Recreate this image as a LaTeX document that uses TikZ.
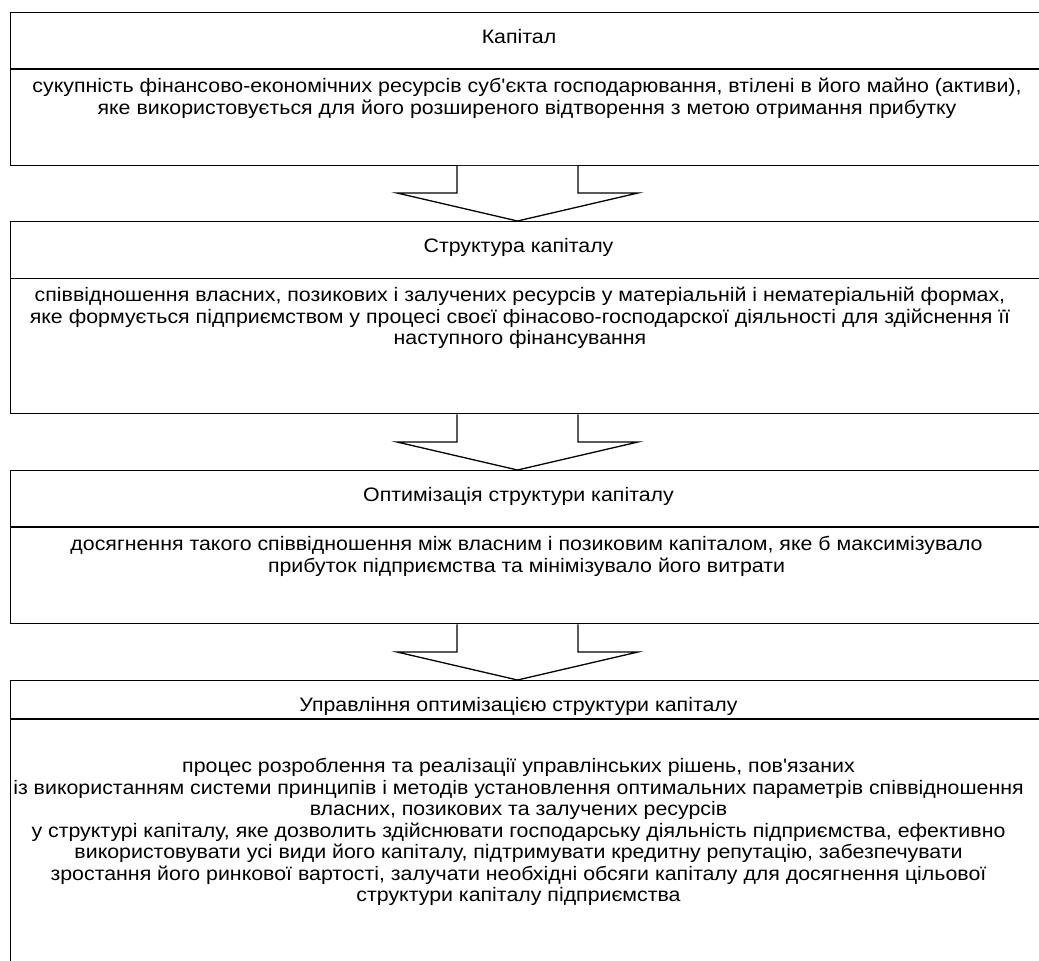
\documentclass[tikz,border=0pt]{standalone}
\usepackage{fontspec}
\setmainfont{Liberation Sans}[Ligatures=TeXOff, FakeStretch=1.095]
\usetikzlibrary{calc}
\newcommand\firstline{\rule{0pt}{15pt}}
\tikzset{
  box/.style={draw=black, line width=1.3pt, rectangle, anchor=north west, minimum width=1040pt, inner sep=0pt},
  divider/.style={draw=black, line width=1.3pt},
  ttl/.style={font=\fontsize{19.5}{21.5}\selectfont, inner sep=0pt, align=center, anchor=base},
  body/.style={font=\fontsize{19.5}{21.5}\selectfont, inner sep=0pt, align=center, anchor=north},
  blockarr/.style={draw=black, line width=1.3pt, fill=white, line join=miter}
}
\newcommand\blockarrow[2]{%
  \draw[blockarr] ($(#1.south -| ax)+(-60.5,0)$) -- ($(#2.north -| ax)+(-60.5,28)$)
    -- ($(#2.north -| ax)+(-120.5,28)$) -- (#2.north -| ax)
    -- ($(#2.north -| ax)+(120.5,28)$) -- ($(#2.north -| ax)+(60.5,28)$)
    -- ($(#1.south -| ax)+(60.5,0)$);}
\begin{document}
\begin{tikzpicture}[x=1pt,y=1pt]
\useasboundingbox (0,0) rectangle (1039,-961);
\clip (0,0) rectangle (1039,-961);
\fill[white] (0,0) rectangle (1039,-961);
\coordinate (ax) at (517.5,0);
% boxes
\node[box, minimum height=152.5pt] (b1) at (9.5,-12) {};
\node[box, minimum height=192pt] (b2) at (9.5,-221) {};
\node[box, minimum height=153pt] (b3) at (9.5,-470) {};
\node[box, minimum height=300pt] (b4) at (9.5,-680) {};
% dividers
\draw[divider] (b1.west |- 0,-69) -- (b1.east |- 0,-69);
\draw[divider] (b2.west |- 0,-278.5) -- (b2.east |- 0,-278.5);
\draw[divider] (b3.west |- 0,-527) -- (b3.east |- 0,-527);
\draw[divider] (b4.west |- 0,-719) -- (b4.east |- 0,-719);
% titles
\node[ttl] (t1) at (519,-43) {Капітал};
\node[ttl] (t2) at (518.5,-252) {Структура капіталу};
\node[ttl] (t3) at (518.5,-501) {Оптимізація структури капіталу};
\node[ttl] (t4) at (518.5,-711) {Управління оптимізацією структури капіталу};
% bodies
\node[body] (d1) at (527,-77.5) {\firstline сукупність фінансово-економічних ресурсів суб'єкта господарювання, втілені в його майно (активи),\\яке використовується для його розширеного відтворення з метою отримання прибутку};
\node[body] (d2) at (520,-286.5) {\firstline співвідношення власних, позикових і залучених ресурсів у матеріальній і нематеріальній формах,\\яке формується підприємством у процесі своєї фінасово-господарскої діяльності для здійснення її\\наступного фінансування};
\node[body] (d3) at (526.5,-535.5) {\firstline досягнення такого співвідношення між власним і позиковим капіталом, яке б максимізувало\\прибуток підприємства та мінімізувало його витрати};
\node[body] (d4) at (518.5,-757.5) {\firstline процес розроблення та реалізації управлінських рішень, пов'язаних\\із використанням системи принципів і методів установлення оптимальних параметрів співвідношення\\власних, позикових та залучених ресурсів\\у структурі капіталу, яке дозволить здійснювати господарську діяльність підприємства, ефективно\\використовувати усі види його капіталу, підтримувати кредитну репутацію, забезпечувати\\зростання його ринкової вартості, залучати необхідні обсяги капіталу для досягнення цільової\\структури капіталу підприємства};
% arrows
\blockarrow{b1}{b2}
\blockarrow{b2}{b3}
\blockarrow{b3}{b4}
\end{tikzpicture}
\end{document}
